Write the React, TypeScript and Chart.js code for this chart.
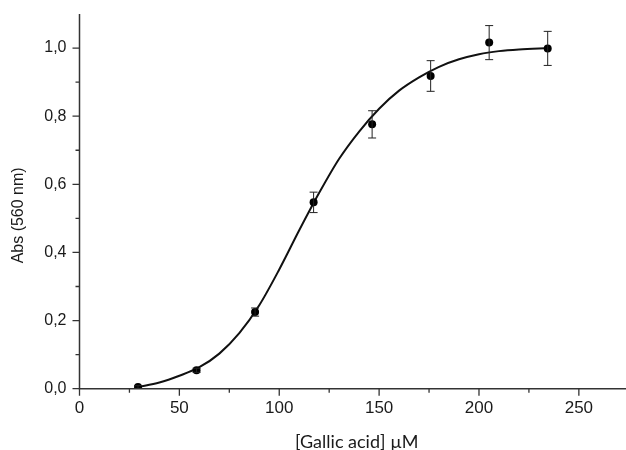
import React, { useEffect, useRef } from "react";
import { Chart, registerables } from "chart.js";

Chart.register(...registerables);

// Measured data (Gallic acid concentration in µM vs absorbance at 560 nm)
const concentrations = [29.3, 58.6, 87.9, 117.2, 146.5, 175.8, 205.1, 234.4];
const absorbance = [0.005, 0.054, 0.225, 0.547, 0.776, 0.918, 1.016, 0.999];
const absError = [0.004, 0.006, 0.012, 0.03, 0.04, 0.045, 0.05, 0.05];

// Fitted curve
const fitX = [29, 40, 50, 60, 70, 80, 90, 100, 110, 120, 130, 140, 150, 160, 170, 180, 190, 200, 210, 220, 235];
const fitY = [0.004, 0.018, 0.038, 0.063, 0.103, 0.163, 0.245, 0.35, 0.465, 0.575, 0.675, 0.755, 0.822, 0.875, 0.914, 0.945, 0.967, 0.982, 0.991, 0.996, 1.0];

// Axis ticks
const xMajorTicks = [0, 50, 100, 150, 200, 250];
const xMinorTicks = [25, 75, 125, 175, 225];
const yMajorTicks = [0, 0.2, 0.4, 0.6, 0.8, 1.0];
const yMinorTicks = [0.1, 0.3, 0.5, 0.7, 0.9];

const xTitle = "[Gallic acid] µM";
const yTitle = "Abs (560 nm)";

const AXIS_COLOR = "#333";
const TEXT_COLOR = "#1a1a1a";

const customAxes = {
  id: "customAxes",
  afterDatasetsDraw(chart: any) {
    const ctx = chart.ctx;
    const xs = chart.scales.x;
    const ys = chart.scales.y;

    // error bars
    ctx.save();
    ctx.strokeStyle = "#222";
    ctx.lineWidth = 1;
    concentrations.forEach((c, i) => {
      const px = xs.getPixelForValue(c);
      const top = ys.getPixelForValue(absorbance[i] + absError[i]);
      const bot = ys.getPixelForValue(absorbance[i] - absError[i]);
      ctx.beginPath();
      ctx.moveTo(px, top);
      ctx.lineTo(px, bot);
      ctx.moveTo(px - 4, top);
      ctx.lineTo(px + 4, top);
      ctx.moveTo(px - 4, bot);
      ctx.lineTo(px + 4, bot);
      ctx.stroke();
    });
    ctx.restore();
  },
  afterDraw(chart: any) {
    const ctx = chart.ctx;
    const area = chart.chartArea;
    const xs = chart.scales.x;
    const ys = chart.scales.y;
    ctx.save();
    ctx.strokeStyle = AXIS_COLOR;
    ctx.lineWidth = 1.5;
    ctx.beginPath();
    ctx.moveTo(area.left, area.top);
    ctx.lineTo(area.left, area.bottom);
    ctx.lineTo(chart.width, area.bottom);
    ctx.stroke();

    ctx.lineWidth = 1.3;
    ctx.beginPath();
    xMajorTicks.forEach((v) => {
      const px = xs.getPixelForValue(v);
      ctx.moveTo(px, area.bottom);
      ctx.lineTo(px, area.bottom + 7);
    });
    xMinorTicks.forEach((v) => {
      const px = xs.getPixelForValue(v);
      ctx.moveTo(px, area.bottom);
      ctx.lineTo(px, area.bottom + 4);
    });
    yMajorTicks.forEach((v) => {
      const py = ys.getPixelForValue(v);
      ctx.moveTo(area.left, py);
      ctx.lineTo(area.left - 7, py);
    });
    yMinorTicks.forEach((v) => {
      const py = ys.getPixelForValue(v);
      ctx.moveTo(area.left, py);
      ctx.lineTo(area.left - 4, py);
    });
    ctx.stroke();

    // axis titles
    ctx.fillStyle = TEXT_COLOR;
    ctx.textAlign = "center";
    ctx.textBaseline = "middle";
    ctx.font = "18px Lato, 'Open Sans', sans-serif";
    ctx.fillText(xTitle, (area.left + chart.width) / 2 + 4, area.bottom + 53);

    ctx.translate(area.left - 61, (area.top + area.bottom) / 2 + 14);
    ctx.rotate(-Math.PI / 2);
    ctx.font = "16px 'Liberation Sans', Arial, sans-serif";
    ctx.fillText(yTitle, 0, 0);
    ctx.restore();
  },
};

export default function App() {
  const canvasRef = useRef<HTMLCanvasElement | null>(null);

  useEffect(() => {
    if (!canvasRef.current) return;
    const chart = new Chart(canvasRef.current, {
      type: "scatter",
      data: {
        datasets: [
          {
            label: "fit",
            data: fitX.map((x, i) => ({ x, y: fitY[i] })),
            showLine: true,
            borderColor: "#111",
            borderWidth: 2,
            pointRadius: 0,
            cubicInterpolationMode: "monotone",
            order: 2,
          } as any,
          {
            label: "data",
            data: concentrations.map((x, i) => ({ x, y: absorbance[i] })),
            pointRadius: 4,
            pointBackgroundColor: "#000",
            pointBorderWidth: 0,
            showLine: false,
            order: 1,
          } as any,
        ],
      },
      options: {
        animation: false,
        responsive: false,
        layout: { padding: { top: 14, right: 0, left: 0, bottom: 0 } },
        plugins: {
          legend: { display: false },
          tooltip: { enabled: false },
        },
        scales: {
          x: {
            type: "linear",
            min: 0,
            max: 271.6,
            grid: { display: false, drawTicks: false },
            border: { display: false },
            afterBuildTicks: (s: any) => {
              s.ticks = [...xMajorTicks, ...xMinorTicks]
                .sort((a, b) => a - b)
                .map((v) => ({ value: v }));
            },
            afterFit: (s: any) => {
              s.height = 61.3;
              s.paddingLeft = 0;
              s.paddingRight = 0;
            },
            ticks: {
              autoSkip: false,
              maxRotation: 0,
              padding: 9,
              color: TEXT_COLOR,
              font: { size: 17, family: "'Liberation Sans', Arial, sans-serif" },
              callback: (v: any) => (xMajorTicks.includes(v) ? String(v) : ""),
            },
          },
          y: {
            type: "linear",
            min: 0,
            max: 1.1,
            grid: { display: false, drawTicks: false },
            border: { display: false },
            afterBuildTicks: (s: any) => {
              s.ticks = [...yMajorTicks, ...yMinorTicks]
                .sort((a, b) => a - b)
                .map((v) => ({ value: v }));
            },
            afterFit: (s: any) => {
              s.width = 79.5;
              s.paddingTop = 0;
              s.paddingBottom = 0;
            },
            ticks: {
              autoSkip: false,
              padding: 13,
              color: TEXT_COLOR,
              font: { size: 16, family: "'Liberation Sans', Arial, sans-serif" },
              callback: (v: any) => {
                const n = Number(v);
                return yMajorTicks.some((t) => Math.abs(t - n) < 1e-9)
                  ? n.toFixed(1).replace(".", ",")
                  : "";
              },
            },
          },
        },
      },
      plugins: [customAxes],
    });
    return () => chart.destroy();
  }, []);

  return (
    <div style={{ position: "absolute", left: 0, top: 0, width: 626, height: 450, background: "#fff" }}>
      <canvas ref={canvasRef} width={626} height={450} style={{ display: "block", width: 626, height: 450 }} />
    </div>
  );
}
